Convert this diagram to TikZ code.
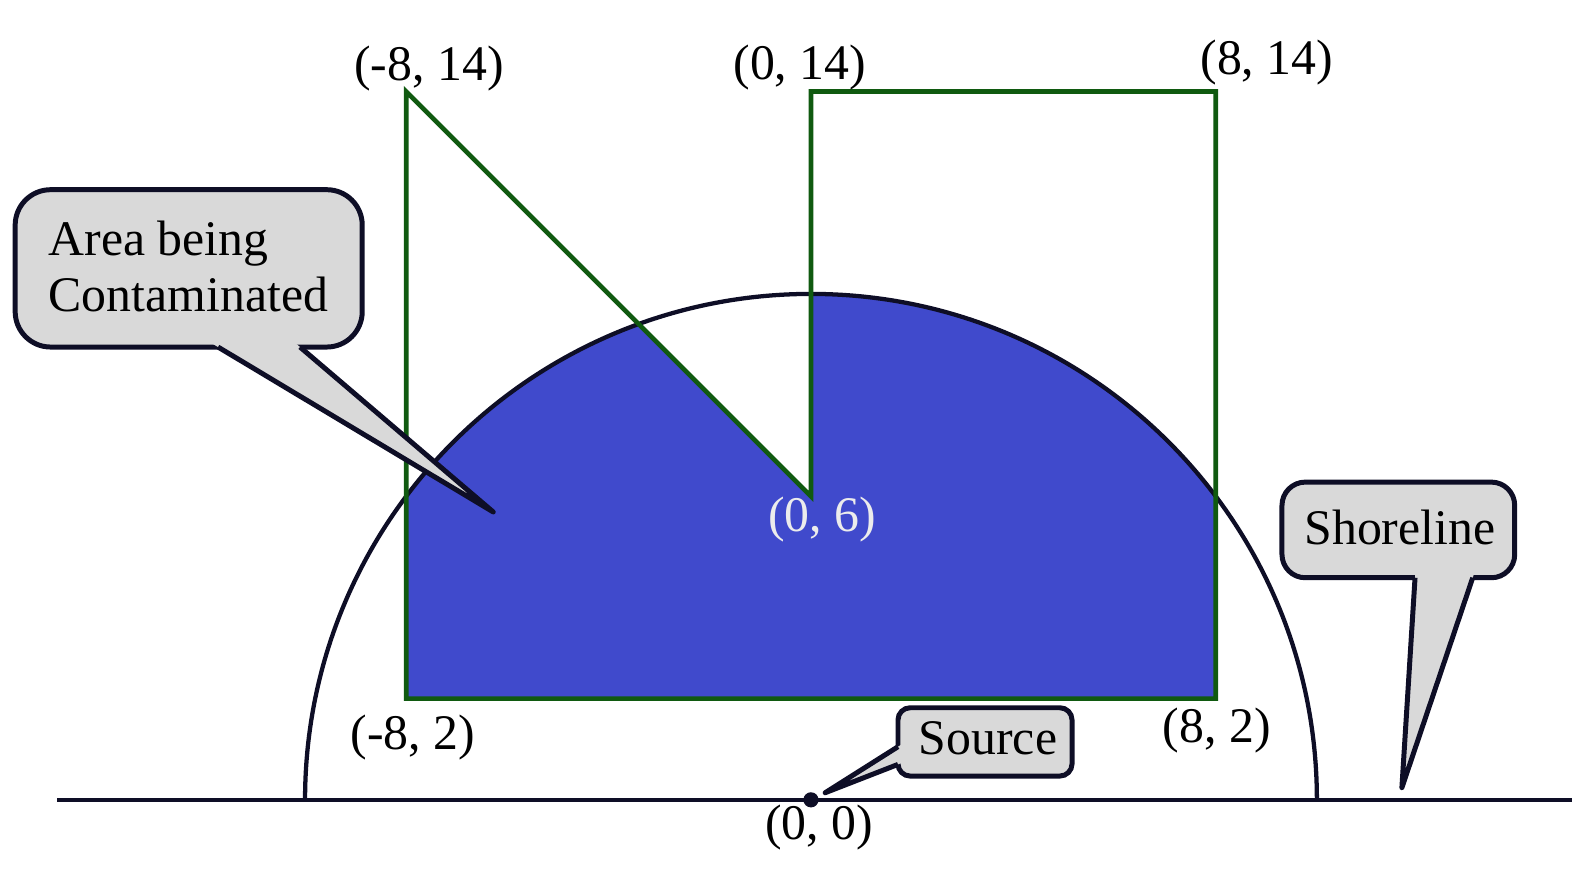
\documentclass[tikz,border=0pt]{standalone}
\usepackage{fontspec}
\setmainfont{Liberation Serif}
\usetikzlibrary{calc}
\definecolor{blueA}{RGB}{64,74,204}
\definecolor{greenA}{RGB}{16,90,16}
\definecolor{navy}{RGB}{14,14,38}
\definecolor{callgray}{RGB}{217,217,217}
\definecolor{labwhite}{RGB}{236,236,236}
\begin{document}
\begin{tikzpicture}[x=0.5cm,y=0.5cm,
  lab/.style={font=\fontsize{14}{16}\selectfont, inner sep=0pt, anchor=base},
  labw/.style={lab, anchor=base west},
  greenline/.style={draw=greenA, line width=1.3pt, line join=miter},
  shore/.style={draw=navy, line width=1.2pt},
  callbox/.style={fill=callgray, draw=navy, line width=1.4pt},
  callfill/.style={fill=callgray},
  callside/.style={draw=navy, line width=1.4pt, line join=round},
  ]
\useasboundingbox (-16.03,-1.70) rectangle (15.24,15.81);
% polygon corners
\coordinate (P1) at (-8,2);
\coordinate (P2) at (8,2);
\coordinate (P3) at (8,14);
\coordinate (P4) at (0,14);
\coordinate (P5) at (0,6);
\coordinate (P6) at (-8,14);
\coordinate (O) at (0,0);
\coordinate (CR) at (10,0);
% contaminated area
\begin{scope}
  \clip (CR) arc (0:180:10) -- cycle;
  \fill[blueA] (P1) -- (P2) -- (P3) -- (P4) -- (P5) -- (P6) -- cycle;
\end{scope}
\draw[shore] (CR) arc (0:180:10);
\draw[greenline] (P1) -- (P2) -- (P3) -- (P4) -- (P5) -- (P6) -- cycle;
% shoreline
\coordinate (SL) at (-14.9,0);
\coordinate (SR) at (15.05,0);
\draw[shore] (SL) -- (SR);
\fill[navy] (O) circle (0.15);
% labels
\node[lab] (lA) at (-7.55,14.21) {(-8, 14)};
\node[lab] (lB) at (-0.22,14.23) {(0, 14)};
\node[lab] (lC) at (9.01,14.33) {(8, 14)};
\node[lab] (lD) at (-7.87,1.0) {(-8, 2)};
\node[lab] (lE) at (8.02,1.13) {(8, 2)};
\node[lab, text=labwhite] (lF) at (0.22,5.30) {(0, 6)};
\node[lab] (lG) at (0.16,-0.79) {(0, 0)};
% callout: Area being Contaminated
\coordinate (A1) at (-15.73,8.95);
\coordinate (A2) at (-8.87,12.06);
\coordinate (Ab1) at (-11.72,8.95);
\coordinate (Ab2) at (-10.10,8.95);
\coordinate (At) at (-6.28,5.69);
\path[callbox, rounded corners=0.35cm] (A1) rectangle (A2);
\fill[callfill] ($(At)!1.06!(Ab1)$) -- (At) -- ($(At)!1.06!(Ab2)$) -- cycle;
\draw[callside] (Ab1) -- (At) -- (Ab2);
\node[labw] (areaT1) at (-15.08,10.75) {Area being};
\node[labw] (areaT2) at (-15.08,9.66) {Contaminated};
% callout: Shoreline
\coordinate (S1) at (9.31,4.39);
\coordinate (S2) at (13.91,6.28);
\coordinate (Sb1) at (11.94,4.39);
\coordinate (Sb2) at (13.08,4.39);
\coordinate (St) at (11.68,0.24);
\path[callbox, rounded corners=0.23cm] (S1) rectangle (S2);
\fill[callfill] ($(St)!1.04!(Sb1)$) -- (St) -- ($(St)!1.04!(Sb2)$) -- cycle;
\draw[callside] (Sb1) -- (St) -- (Sb2);
\node[lab] (shoreT) at (11.64,5.04) {Shoreline};
% callout: Source
\coordinate (R1) at (1.72,0.47);
\coordinate (R2) at (5.16,1.82);
\coordinate (Rb1) at (1.72,1.05);
\coordinate (Rb2) at (1.72,0.70);
\coordinate (Rt) at (0.28,0.14);
\path[callbox, rounded corners=0.12cm] (R1) rectangle (R2);
\fill[callfill] ($(Rt)!1.08!(Rb1)$) -- (Rt) -- ($(Rt)!1.08!(Rb2)$) -- cycle;
\draw[callside] (Rb1) -- (Rt) -- (Rb2);
\node[lab] (srcT) at (3.5,0.89) {Source};
\end{tikzpicture}
\end{document}
